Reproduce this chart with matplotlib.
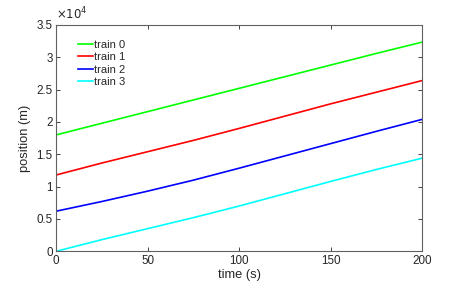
import matplotlib
matplotlib.use("Agg")
import matplotlib.pyplot as plt
from matplotlib.ticker import FuncFormatter

plt.rcParams['font.family'] = ['Liberation Sans', 'DejaVu Sans']

time = [0, 25, 50, 75, 100, 125, 150, 175, 200]
train_0 = [18000, 19800, 21600, 23400, 25200, 27000, 28800, 30600, 32350]
train_1 = [11800, 13650, 15400, 17150, 19000, 20900, 22800, 24600, 26400]
train_2 = [6200, 7700, 9300, 11000, 12850, 14750, 16650, 18550, 20400]
train_3 = [0, 1800, 3500, 5200, 7000, 8900, 10800, 12650, 14400]
series = [train_0, train_1, train_2, train_3]
labels = ['train 0', 'train 1', 'train 2', 'train 3']
colors = ['#00ff00', '#ff0000', '#0000ff', '#00ffff']

fig = plt.figure(figsize=(4.66, 2.86), dpi=100)
ax = fig.add_axes([0.1202, 0.1213, 0.7854, 0.7913])
for s, lab, c in zip(series, labels, colors):
    ax.plot(time, s, color=c, lw=1.2, label=lab)

ax.set_xlim(0, 200)
ax.set_ylim(0, 35000)
ax.set_xticks([0, 50, 100, 150, 200])
ax.set_yticks([0, 5000, 10000, 15000, 20000, 25000, 30000, 35000])
ax.yaxis.set_major_formatter(FuncFormatter(lambda v, p: f"{v/1e4:g}"))
axcol = '#262626'
ax.tick_params(direction='in', top=True, right=True, length=3, width=0.6,
               colors=axcol, labelsize=8.4, pad=2.5)
for sp in ax.spines.values():
    sp.set_color('#606060')
    sp.set_linewidth(0.8)
ax.text(0.0, 1.01, r'$\times10^{4}$', transform=ax.transAxes, fontsize=8.4,
        color=axcol, ha='left', va='bottom')
ax.set_xlabel('time (s)', fontsize=9.3, color=axcol, labelpad=1.5)
ax.set_ylabel('position (m)', fontsize=9.3, color=axcol, labelpad=4)
leg = ax.legend(loc='upper left', frameon=False, fontsize=8,
                handlelength=1.4, handletextpad=0.08, labelspacing=0.22,
                bbox_to_anchor=(0.047, 0.955), borderaxespad=0)
for t in leg.get_texts():
    t.set_color(axcol)
fig.savefig('out.png', dpi=100)
